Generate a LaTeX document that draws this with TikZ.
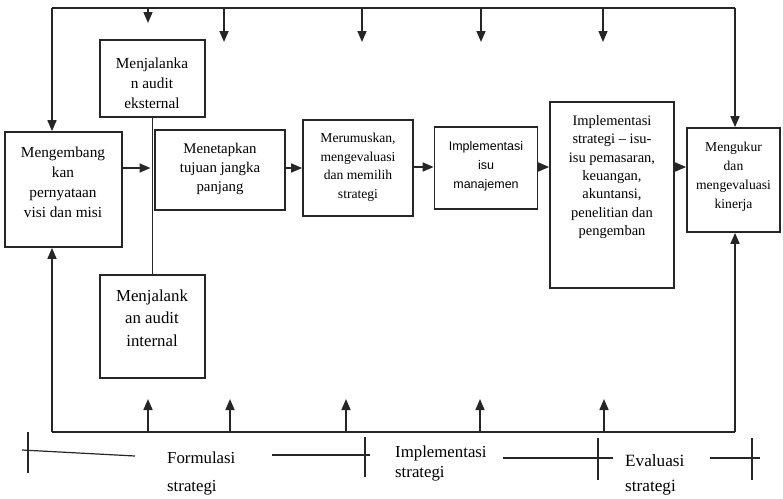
\documentclass[tikz,border=0pt]{standalone}
\usepackage{fontspec}
\setmainfont{Liberation Serif}
\newfontfamily\sansf{Liberation Sans}
\usetikzlibrary{arrows.meta,calc}
\tikzset{
  box/.style={draw=black!85, line width=1.7pt, inner sep=0pt, fill=white},
  txt/.style={align=center, inner sep=0pt, text=black},
  lbl/.style={align=left, inner sep=0pt, text=black, anchor=west},
  ln/.style={line width=1.6pt, draw=black!85},
  thin/.style={line width=1.2pt, draw=black!85},
  arr/.style={ln, -{Triangle[length=11pt,width=9pt]}},
}
\begin{document}
\begin{tikzpicture}[x=1pt,y=-1pt]
\useasboundingbox (0,0) rectangle (783,498);
% boxes
\node[box, minimum width=117pt, minimum height=115pt] (b1) at (63.5,189.5) {};
\node[box, minimum width=105pt, minimum height=77pt] (ext) at (152.5,78.5) {};
\node[box, minimum width=105pt, minimum height=103pt] (int) at (152.5,326.5) {};
\node[box, minimum width=130pt, minimum height=80pt] (b2) at (220,170) {};
\node[box, minimum width=110pt, minimum height=96pt] (b3) at (358,168) {};
\node[box, minimum width=103pt, minimum height=82pt] (b4) at (486,168) {};
\node[box, minimum width=124pt, minimum height=186pt] (b5) at (612,195) {};
\node[box, minimum width=93pt, minimum height=104pt] (b6) at (733.5,180) {};
% texts
\node[txt, font=\fontsize{15.3}{20}\selectfont] (t1) at (63,182) {Mengembang\\kan\\pernyataan\\visi dan misi};
\node[txt, font=\fontsize{15.3}{20}\selectfont] (text) at (152,83) {Menjalanka\\n audit\\eksternal};
\node[txt, font=\fontsize{16.8}{22.5}\selectfont] (tint) at (152,318) {Menjalank\\an audit\\internal};
\node[txt, font=\fontsize{14.8}{19}\selectfont] (t2) at (220,169) {Menetapkan\\tujuan jangka\\panjang};
\node[txt, font=\fontsize{13.6}{18.5}\selectfont] (t3) at (358,167) {Merumuskan,\\mengevaluasi\\dan memilih\\strategi};
\node[txt, font=\sansf\fontsize{12.5}{19}\selectfont] (t4) at (486,166) {Implementasi\\isu\\manajemen};
\node[txt, font=\fontsize{14.5}{18.3}\selectfont] (t5) at (612,177) {Implementasi\\strategi -- isu-\\isu pemasaran,\\keuangan,\\akuntansi,\\penelitian dan\\pengemban};
\node[txt, font=\fontsize{13.6}{19}\selectfont] (t6) at (733.5,176.5) {Mengukur\\dan\\mengevaluasi\\kinerja};
% frame coordinates
\coordinate (tl) at (52,8);
\coordinate (tr) at (735,8);
\coordinate (bl) at (52,432);
\coordinate (br) at (735,432);
\coordinate (row) at (0,167);
\coordinate (row1) at (0,168);
% top frame
\draw[ln] (tl) -- (tr);
\draw[arr] (tl) -- (tl |- b1.north);
\draw[arr] (tr) -- (tr |- b6.north);
\foreach \x/\t [count=\i] in {148/23,224/42,362/42,481/42,603/42}{
  \coordinate (ta\i) at (\x,8);
  \coordinate (te\i) at (\x,\t);
  \draw[arr] (ta\i) -- (te\i);
}
% bottom frame
\draw[ln] (bl) -- (br);
\draw[arr] (bl) -- (bl |- b1.south);
\draw[arr] (br) -- (br |- b6.south);
\foreach \x [count=\i] in {148,230,346,480,604}{
  \coordinate (ba\i) at (\x,432);
  \coordinate (be\i) at (\x,399);
  \draw[arr] (ba\i) -- (be\i);
}
% audit line
\draw[ln] (ext.south) -- (int.north);
% flow arrows
\draw[arr] (b1.east |- row1) -- ($(ext.south |- row1)+(-2,0)$);
\draw[arr] (b2.east |- row1) -- (b3.west |- row1);
\draw[arr] (b3.east |- row) -- (b4.west |- row);
\draw[arr] (b4.east |- row) -- (b5.west |- row);
\draw[arr] (b5.east |- row) -- (b6.west |- row);
% phase markers
\draw[thin] (22,450) -- (135,456);
\draw[thin] (28,432) -- (28,473);
\draw[thin] (272,455) -- (370,455);
\draw[thin] (365,437) -- (365,477);
\draw[thin] (503,458) -- (613,458);
\draw[thin] (598,438) -- (598,480);
\draw[thin] (710,458) -- (760,458);
\draw[thin] (752,438) -- (752,480);
% phase labels
\node[lbl, font=\fontsize{16.8}{28}\selectfont] (pf) at (167,473) {Formulasi\\strategi};
\node[lbl, font=\fontsize{16.8}{20}\selectfont] (pi) at (395,463) {Implementasi\\strategi};
\node[lbl, font=\fontsize{17.2}{25}\selectfont] (pe) at (625,475) {Evaluasi\\strategi};
\end{tikzpicture}
\end{document}
